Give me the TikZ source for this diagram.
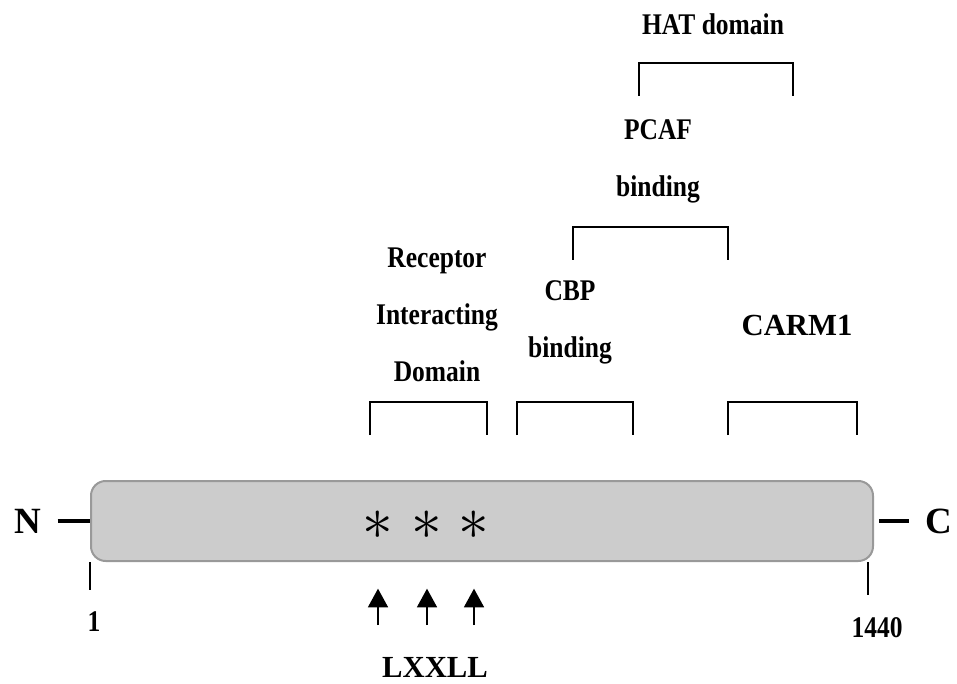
\documentclass[tikz,border=0pt]{standalone}
\usepackage{fontspec}
\setmainfont{Liberation Serif}
\newfontfamily\condfont{Liberation Serif}[FakeStretch=0.85]
\usetikzlibrary{arrows.meta}
\definecolor{boxfill}{gray}{0.8}
\definecolor{boxedge}{gray}{0.6}
\tikzset{
  protein/.style={draw=boxedge,fill=boxfill,line width=1.5pt,rounded corners=11pt,
    minimum width=586.5pt,minimum height=60pt},
  bracket/.style={line width=2.2pt},
  lbl/.style={font=\condfont\bfseries\fontsize{22.5}{43}\selectfont,align=center,anchor=base},
  term/.style={font=\bfseries\fontsize{27.75}{30}\selectfont,anchor=base},
  posn/.style={font=\condfont\bfseries\fontsize{22.5}{26}\selectfont,anchor=base},
  plain/.style={font=\bfseries\fontsize{23}{26}\selectfont,anchor=base},
  tick/.style={line width=1.5pt},
  endline/.style={line width=3pt},
  motifarrow/.style={-{Triangle[width=15pt,length=14pt]},line width=1.2pt},
}
\begin{document}
\begin{tikzpicture}[x=0.75pt,y=-0.75pt]
\useasboundingbox (0,0) rectangle (957,684);
% protein bar
\node[protein] (prot) at (482,521) {};
\node[term] (N) at (28,533) {N};
\node[term] (C) at (939,533) {C};
\draw[endline,shorten <=8.7pt] (N.east) -- (N.east -| prot.west);
\draw[endline,shorten <=3.75pt,shorten >=8.7pt] (C.west -| prot.east) -- (C.west);
% residue numbers
\node[posn] (one) at (94,631) {1};
\node[posn] (last) at (877,637) {1440};
\draw[tick,shorten >=12pt] (prot.south west) -- (prot.south west |- one.north);
\draw[tick,shorten >=12.75pt] ([xshift=-4.5pt]prot.south east) -- ([xshift=-4.5pt]prot.south east |- last.north);
% LXXLL motifs
\foreach \x [count=\i] in {378,427,474} {
  \node (s\i) at (\x,525) {\scalebox{4.6}{$\ast$}};
  \coordinate (t\i) at (\x,625);
  \draw[motifarrow,shorten >=20pt] (t\i) -- (s\i |- prot.south);
}
\node[plain] (lxxll) at (435,677) {LXXLL};
% domain brackets
\foreach \l/\r/\t in {370/487/402, 517/633/402, 728/857/402, 573/728/227, 639/793/63}
  \draw[bracket] (\l,\t+33) |- (\r,\t) -- (\r,\t+33);
\node[lbl] (rid) at (437,382) {Receptor\\Interacting\\Domain};
\node[lbl] (cbp) at (570,358) {CBP\\binding};
\node[lbl] (pcaf) at (658,197) {PCAF\\binding};
\node[lbl] (hat) at (713,35) {HAT domain};
\node[plain] (carm) at (797,335) {CARM1};
\end{tikzpicture}
\end{document}
